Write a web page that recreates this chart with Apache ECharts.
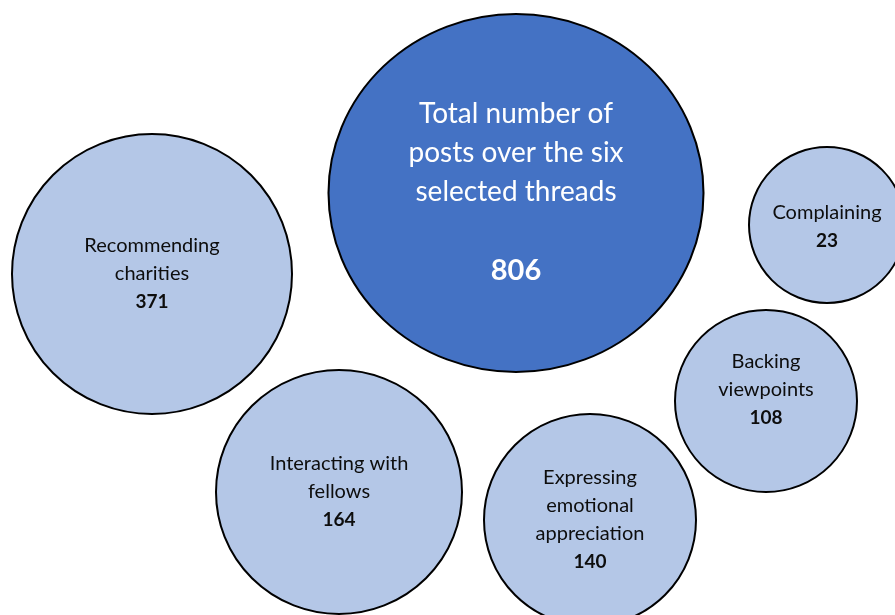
<!DOCTYPE html>
<html>
<head>
<meta charset="utf-8">
<title>Posts by thread type</title>
<script src="https://cdn.jsdelivr.net/npm/echarts@6/dist/echarts.min.js"></script>
<style>
  html, body { margin: 0; padding: 0; background: #ffffff; }
  #chart { width: 895px; height: 615px; }
</style>
</head>
<body>
<div id="chart"></div>
<script>
// Post categories (line breaks as shown inside each bubble) and their post counts
const categories = [
  'Total number of\nposts over the six\nselected threads',
  'Recommending\ncharities',
  'Complaining',
  'Backing\nviewpoints',
  'Interacting with\nfellows',
  'Expressing\nemotional\nappreciation'
];
const posts = [806, 371, 23, 108, 164, 140];

// Bubble placement on a 895 x 615 canvas-space grid: [x, y] centres and [w, h] diameters
const centres = [[516, 193], [152, 274], [827, 225], [766, 401], [339, 492], [590, 520]];
const diameters = [[375, 358], [280, 280], [156, 156], [182, 182], [246, 244], [212, 212]];
const labelShift = [[0, 0], [0, 0], [0, 2], [0, -11], [0, 0], [0, 0]];

const FONT = 'Lato, "Noto Sans", sans-serif';

const data = categories.map(function (name, i) {
  const isTotal = i === 0;
  return {
    name: name,
    value: [centres[i][0], centres[i][1], posts[i]],
    symbolSize: diameters[i],
    itemStyle: {
      color: isTotal ? '#4472C4' : '#B4C7E7',
      borderColor: '#000000',
      borderWidth: 2,
      opacity: 1
    },
    label: {
      offset: labelShift[i],
      formatter: isTotal
        ? '{n|{b}\n }\n{v|{@[2]}}'
        : '{n|{b}}\n{v|{@[2]}}',
      rich: isTotal
        ? {
            n: { color: '#ffffff', fontSize: 28, lineHeight: 39, fontFamily: FONT, align: 'center' },
            v: { color: '#ffffff', fontSize: 29, fontWeight: 'bold', lineHeight: 42, fontFamily: FONT, align: 'center' }
          }
        : {
            n: { color: '#0d0d0d', fontSize: 20, lineHeight: 28, fontFamily: FONT, align: 'center' },
            v: { color: '#0d0d0d', fontSize: 19, fontWeight: 'bold', lineHeight: 28, fontFamily: FONT, align: 'center' }
          }
    }
  };
});

const chart = echarts.init(document.getElementById('chart'), null, { renderer: 'canvas' });
chart.setOption({
  backgroundColor: '#ffffff',
  animation: false,
  grid: { left: 0, right: 0, top: 0, bottom: 0 },
  xAxis: { type: 'value', min: 0, max: 895, show: false },
  yAxis: { type: 'value', min: 0, max: 615, inverse: true, show: false },
  series: [{
    type: 'scatter',
    symbol: 'circle',
    data: data,
    label: { show: true, position: 'inside', align: 'center', verticalAlign: 'middle' },
    emphasis: { disabled: true }
  }]
});
</script>
</body>
</html>
